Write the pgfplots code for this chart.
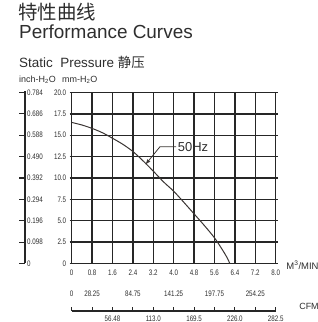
\documentclass[border=0pt]{standalone}
\usepackage{pgfplots}
\pgfplotsset{compat=1.18}
\usepackage{fontspec}
\setmainfont{Liberation Sans}
\newfontfamily\cjk{Noto Sans CJK SC}
\newfontfamily\narrow[FakeStretch=0.78]{Liberation Sans}
\definecolor{txt}{HTML}{2E2E2E}
\definecolor{gridc}{HTML}{262626}
\definecolor{curvec}{HTML}{3A3533}
\begin{document}
\begin{tikzpicture}[x=1bp,y=1bp]
\useasboundingbox (0,0) rectangle (318,322);
% titles
\node[anchor=base west, inner sep=0, text=txt, font=\cjk\fontsize{19.5}{19.5}\selectfont] at (18,303) {特性曲线};
\node[anchor=base west, inner sep=0, text=txt, font=\fontsize{19}{19}\selectfont] at (19,284) {Performance Curves};
\node[anchor=base west, inner sep=0, text=txt, font=\fontsize{13.5}{14}\selectfont] at (19,255) {Static\ \ Pressure {\cjk 静压}};
\node[anchor=base west, inner sep=0, text=txt, font=\fontsize{9}{9}\selectfont] at (19,240) {inch-H\textsubscript{2}O};
\node[anchor=base west, inner sep=0, text=txt, font=\fontsize{9}{9}\selectfont] at (62,240) {mm-H\textsubscript{2}O};
\begin{axis}[
  at={(71.7bp,58.5bp)}, anchor=south west,
  scale only axis, width=204bp, height=171bp,
  xmin=0, xmax=8, ymin=0, ymax=20,
  xtick={0,0.8,1.6,2.4,3.2,4.0,4.8,5.6,6.4,7.2,8.0},
  xticklabels={0,0.8,1.6,2.4,3.2,4.0,4.8,5.6,6.4,7.2,8.0},
  ytick={0,2.5,5,7.5,10,12.5,15,17.5,20},
  yticklabels={0,2.5,5.0,7.5,10.0,12.5,15.0,17.5,20.0},
  grid=major,
  major grid style={gridc, line width=1.3bp},
  axis line style={gridc, line width=1.3bp},
  tick align=outside,
  x tick style={draw=none},
  y tick style={gridc, line width=1.3bp},
  major tick length=2bp,
  ticklabel style={font=\narrow\fontsize{8}{8}\selectfont, text=txt},
  xticklabel style={yshift=-1bp},
  clip=false,
]
\addplot[curvec, line width=1bp, smooth, tension=0.5] coordinates {
 (0,16.5) (0.4,16.2) (0.8,15.8) (1.2,15.3) (1.6,14.65) (2.0,13.95) (2.4,13.1)
 (2.8,12.0) (3.2,10.8) (3.6,9.55) (4.0,8.45) (4.4,7.15) (4.8,5.8) (5.2,4.45)
 (5.6,3.0) (5.9,1.65) (6.1,0.65) (6.2,0)
};
\end{axis}
% 50Hz annotation
\node[text=txt, font=\fontsize{13}{13}\selectfont, inner sep=0] at (193,174.5) {50Hz};
\draw[curvec, line width=0.8bp, -latex] (176,175.3) -- (160,175.3) -- (145.5,157.5);
% inch axis
\draw[gridc, line width=1.1bp] (25,58.5) -- (25,231);
\foreach \i/\lab in {0/0,1/0.098,2/0.196,3/0.294,4/0.392,5/0.490,6/0.588,7/0.686,8/0.784}{
  \draw[gridc, line width=1.1bp] (19,58.5+\i*21.375) -- (25,58.5+\i*21.375);
  \node[anchor=west, inner sep=0, text=txt, font=\narrow\fontsize{8}{8}\selectfont] at (27,58.5+\i*21.375) {\lab};
}
% CFM axis
\draw[gridc, line width=1.1bp] (71.7,11) -- (275.7,11);
\foreach \i in {0,...,10}{
  \draw[gridc, line width=1.1bp] (71.7+\i*20.4,11) -- (71.7+\i*20.4,15.5);
}
\foreach \i/\lab in {0/0,1/28.25,3/84.75,5/141.25,7/197.75,9/254.25}{
  \node[text=txt, inner sep=0, font=\narrow\fontsize{8}{8}\selectfont] at (71.7+\i*20.4,28.7) {\lab};
}
\foreach \i/\lab in {2/56.48,4/113.0,6/169.5,8/226.0,10/282.5}{
  \node[text=txt, inner sep=0, font=\narrow\fontsize{8}{8}\selectfont] at (71.7+\i*20.4,3.5) {\lab};
}
\node[text=txt, inner sep=0, font=\fontsize{9.5}{9.5}\selectfont] at (302.5,57) {M\textsuperscript{3}/MIN};
\node[text=txt, inner sep=0, font=\fontsize{9}{9}\selectfont] at (309,16) {CFM};
\end{tikzpicture}
\end{document}
